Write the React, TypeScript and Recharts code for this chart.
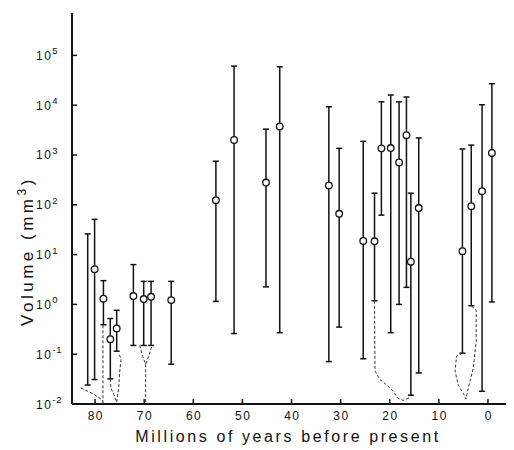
import React from 'react';
import { ComposedChart, Scatter, XAxis, YAxis, ErrorBar } from 'recharts';

// Ages (Myr before present) of samples with a marker (open circle)
const ages = [80.1, 78.3, 76.9, 75.6, 72.2, 70.1, 68.6, 64.5, 55.4, 51.7, 45.2, 42.4, 32.4, 30.3, 25.4, 23.1, 21.7, 19.8, 18.1, 16.6, 15.7, 14.1, 5.2, 3.4, 1.2, -0.8];
const mids = [5.1, 1.3, 0.2, 0.33, 1.47, 1.28, 1.42, 1.22, 124, 2000, 280, 3750, 244, 66, 18.8, 18.5, 1360, 1380, 710, 2500, 7.2, 86, 11.7, 94, 188, 1100];
const lows = [0.031, 0.39, 0.032, 0.115, 0.15, 0.15, 0.15, 0.063, 1.15, 0.26, 2.25, 0.27, 0.071, 0.35, 0.081, 1.18, 62, 0.27, 1.0, 2.2, 0.015, 0.042, 0.105, 0.94, 0.018, 1.12];
const highs = [51, 3.0, 0.52, 0.76, 6.3, 2.9, 2.9, 2.9, 750, 61000, 3300, 59000, 9300, 1360, 1880, 171, 11700, 16000, 11700, 14600, 171, 2200, 1320, 1580, 10200, 27000];

// Range without a marker
const bareAges = [81.5];
const bareLows = [0.024];
const bareHighs = [26];

// Dashed outlines [age, volume]
const curveA: [number, number][] = [[82.9, 0.021], [80.4, 0.016], [79.0, 0.013], [78.4, 0.0115]];
const curveA2: [number, number][] = [[78.4, 0.38], [78.4, 0.0101]];
const curveB: [number, number][] = [[76.9, 0.032], [76.8, 0.021], [76.2, 0.0158], [75.6, 0.0108], [75.2, 0.021], [75.0, 0.042], [74.7, 0.083], [75.3, 0.105]];
const curveC: [number, number][] = [[70.9, 0.15], [70.3, 0.09], [69.7, 0.063], [69.1, 0.09], [68.4, 0.15]];
const curveC2: [number, number][] = [[69.7, 0.063], [69.7, 0.0101]];
const curveD: [number, number][] = [[23.1, 1.18], [23.0, 0.046], [22.0, 0.031], [20.6, 0.024], [19.3, 0.018], [18.3, 0.013], [17.3, 0.0118], [15.8, 0.0135]];
const curveE: [number, number][] = [[5.2, 0.105], [6.4, 0.091], [6.7, 0.046], [6.05, 0.024], [4.9, 0.0155], [4.5, 0.0125], [4.0, 0.021], [3.0, 0.052], [2.4, 0.18], [2.4, 0.76], [3.4, 0.94]];

const xTicks = [80, 70, 60, 50, 40, 30, 20, 10, 0];
const yTicks = [0.01, 0.1, 1, 10, 100, 1000, 10000, 100000];

const marked = ages.map((a, i) => ({ x: a, y: mids[i], err: [mids[i] - lows[i], highs[i] - mids[i]] }));
const bare = bareAges.map((a, i) => {
  const m = Math.sqrt(bareLows[i] * bareHighs[i]);
  return { x: a, y: m, err: [m - bareLows[i], bareHighs[i] - m] };
});
const toPts = (c: [number, number][]) => c.map(([x, y]) => ({ x, y }));
const curves = [curveA, curveA2, curveB, curveC, curveC2, curveD, curveE].map(toPts);

const FONT = '"Liberation Sans", Arial, Helvetica, sans-serif';
const INK = '#111';

const YTick = (props: any) => {
  const { x, y, payload } = props;
  const e = Math.round(Math.log10(payload.value));
  return (
    <g>
      <line x1={x} x2={x + 5} y1={y} y2={y} stroke={INK} strokeWidth={1.5} />
      <text x={28} y={y + 4.5} fontFamily={FONT} fontSize={12} letterSpacing={1.5} fill={INK}>
        10
        <tspan dy={-5.5} fontSize={9.5} letterSpacing={0.8}>{e < 0 ? `-${-e}` : `${e}`}</tspan>
      </text>
    </g>
  );
};

const XTick = (props: any) => {
  const { x, y, payload } = props;
  return (
    <g>
      <line x1={x} x2={x} y1={y} y2={y - 5} stroke={INK} strokeWidth={1.5} />
      <text x={x + 0.8} y={y + 16} textAnchor="middle" fontFamily={FONT} fontSize={12} letterSpacing={1.5} fill={INK}>
        {payload.value}
      </text>
    </g>
  );
};

const Dot = (props: any) => (
  <circle cx={props.cx} cy={props.cy} r={3.3} fill="#fff" stroke={INK} strokeWidth={1.3} />
);
const NoDot = () => <g />;

export default function App() {
  return (
    <ComposedChart width={506} height={442} margin={{ top: 5, right: 0, bottom: 0, left: 0 }}>
      <XAxis
        type="number"
        dataKey="x"
        domain={[-5.3, 84.7]}
        reversed
        allowDataOverflow
        ticks={xTicks}
        interval={0}
        tick={<XTick />}
        tickLine={false}
        tickSize={0}
        tickMargin={0}
        height={46}
        axisLine={{ stroke: INK, strokeWidth: 2 }}
        label={{
          content: () => (
            <text x={280} y={434} textAnchor="middle" fontFamily={FONT} fontSize={16} letterSpacing={2.6} fill={INK}>
              Millions of years before present
            </text>
          ),
        }}
      />
      <YAxis
        type="number"
        dataKey="y"
        scale="log"
        domain={[0.01, 710000]}
        allowDataOverflow
        ticks={yTicks}
        interval={0}
        tick={<YTick />}
        tickLine={false}
        tickSize={0}
        tickMargin={0}
        width={64}
        axisLine={{ stroke: INK, strokeWidth: 2 }}
        label={{
          content: () => (
            <text
              x={25}
              y={243}
              textAnchor="middle"
              transform="rotate(-90, 25, 243)"
              fontFamily={FONT}
              fontSize={17}
              letterSpacing={3.5}
              fill={INK}
            >
              Volume (mm<tspan dy={-7} fontSize={12}>3</tspan><tspan dy={7}>)</tspan>
            </text>
          ),
        }}
      />
      {curves.map((c, i) => (
        <Scatter
          key={`c${i}`}
          data={c}
          line={{ stroke: '#333', strokeWidth: 1, strokeDasharray: '3 2' }}
          lineType="joint"
          shape={NoDot}
          isAnimationActive={false}
        />
      ))}
      <Scatter data={bare} shape={NoDot} isAnimationActive={false}>
        <ErrorBar dataKey="err" direction="y" width={3} stroke={INK} strokeWidth={1.5} isAnimationActive={false} />
      </Scatter>
      <Scatter data={marked} shape={Dot} isAnimationActive={false}>
        <ErrorBar dataKey="err" direction="y" width={3} stroke={INK} strokeWidth={1.5} isAnimationActive={false} />
      </Scatter>
    </ComposedChart>
  );
}
